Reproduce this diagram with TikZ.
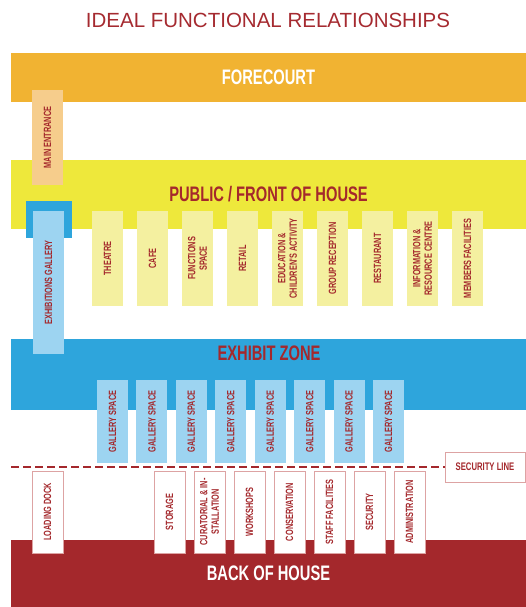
\documentclass[tikz,border=0pt]{standalone}
\usepackage{fontspec}
\setmainfont{Liberation Sans}
\newfontfamily\condfont[FakeStretch=0.7]{Liberation Sans}
\definecolor{titlered}{HTML}{A52A30}
\definecolor{fore}{HTML}{F1B332}
\definecolor{forebox}{HTML}{F6CD8C}
\definecolor{foh}{HTML}{EEE83B}
\definecolor{fohbox}{HTML}{F4F0A0}
\definecolor{exhib}{HTML}{2EA5DC}
\definecolor{exhibbox}{HTML}{9DD4F1}
\definecolor{boh}{HTML}{A4282C}
\definecolor{roombord}{HTML}{DDA3A3}
\tikzset{
  band/.style={fill=#1,minimum width=515pt,inner sep=0pt,
    font=\condfont\bfseries\fontsize{21}{22}\selectfont},
  room/.style={rotate=90,minimum height=31pt,inner sep=1pt,align=center,
    text=boh,font=\condfont\bfseries\fontsize{10.5}{11.5}\selectfont},
  secdash/.style={draw=boh,line width=2pt,dash pattern=on 7.5pt off 4.5pt},
}
\begin{document}
\begin{tikzpicture}[x=1pt,y=-1pt]
\useasboundingbox (0,0) rectangle (526,607);
\node[text=titlered,font=\fontsize{20.5}{24}\selectfont] (title) at (268,20) {IDEAL FUNCTIONAL RELATIONSHIPS};
%
\node[band=fore,minimum height=49pt,text=white] (forecourt) at (268.5,77.5) {FORECOURT};
\node[band=foh,minimum height=69pt,text=boh] (public) at (268.5,194.5) {PUBLIC / FRONT OF HOUSE};
\node[band=exhib,minimum height=71pt] (exhibit) at (268.5,374.5) {};
\node[band=exhib,fill=none,text=boh] (exhibitlbl) at (269,353) {EXHIBIT ZONE};
\node[band=boh,minimum height=68pt,text=white] (boh) at (268.5,573.5) {BACK OF HOUSE};
%
\node[room,fill=forebox,minimum width=95pt] (entrance) at (47.5,137.5) {MAIN ENTRANCE};
\node[fill=exhib,minimum width=46pt,minimum height=37pt] (galframe) at (49,219.5) {};
\node[room,fill=exhibbox,minimum width=143pt] (gallery) at (48.5,282.5) {EXHIBITIONS GALLERY};
%
\foreach \lbl [count=\i from 0] in {THEATRE,CAFE,{FUNCTIONS\\SPACE},RETAIL,
    {EDUCATION \&\\CHILDREN'S ACTIVITY},GROUP RECEPTION,RESTAURANT,
    {INFORMATION \&\\RESOURCE CENTRE},MEMBERS FACILITIES}
  \node[room,fill=fohbox,minimum width=95pt] (foh\i) at ({107.5+45*\i},258.5) {\lbl};
\foreach \i in {0,...,7}
  \node[room,fill=exhibbox,minimum width=83pt] (gs\i) at ({112.5+39.43*\i},421.5) {GALLERY SPACE};
%
\node[room,fill=white,draw=roombord,line width=0.8pt,minimum width=82pt] (dock) at (47.5,512) {LOADING DOCK};
\foreach \lbl [count=\i from 0] in {STORAGE,{CURATORIAL \& IN-\\STALLATION},WORKSHOPS,
    CONSERVATION,STAFF FACILITIES,SECURITY,ADMINISTRATION}
  \node[room,fill=white,draw=roombord,line width=0.8pt,minimum width=82pt] (bh\i) at ({169.5+40*\i},512) {\lbl};
%
\node[fill=white,draw=roombord,line width=0.8pt,minimum width=80pt,minimum height=30pt,inner sep=0pt,
  text=boh,font=\condfont\bfseries\fontsize{11}{12}\selectfont] (secline) at (485,467) {SECURITY LINE};
\coordinate (dashstart) at (11,467);
\draw[secdash] (dashstart) -- (secline.west);
\end{tikzpicture}
\end{document}
